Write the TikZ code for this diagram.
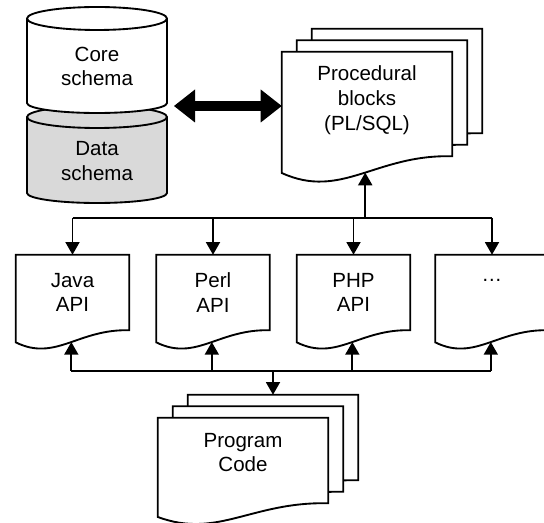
\documentclass[tikz,border=0pt]{standalone}
\usepackage{fontspec}
\setmainfont{Liberation Sans}
\usetikzlibrary{arrows.meta, calc, positioning}

\tikzset{
	sheetnode/.style={
			shape=rectangle,
			inner sep=0pt
		},
	apinode/.style={
			sheetnode,
			minimum width=84.75pt,
			minimum height=56.25pt
		},
	blocknode/.style={
			sheetnode,
			minimum width=127.5pt,
			minimum height=78pt
		},
	codenode/.style={
			sheetnode,
			minimum width=127.5pt,
			minimum height=63.75pt
		},
	labeltext/.style={
			align=center,
			inner sep=0pt,
			font=\fontsize{15.4pt}{18.6pt}\selectfont
		},
	sheetline/.style={
			draw=black,
			line width=1.4pt,
			fill=white
		},
	dbline/.style={
			draw=black,
			line width=1.4pt
		},
	wire/.style={
			draw=black,
			line width=1.4pt
		},
	arrowwire/.style={
			wire,
			-{Triangle[length=9.5pt,width=10.5pt]}
		},
	fatarrow/.style={
			line width=7.5pt,
			{Triangle[length=15.75pt,width=24.75pt,line width=0pt]}-{Triangle[length=15.75pt,width=24.75pt,line width=0pt]}
		}
}

% outline of a page with a wavy lower edge, drawn round a named node
\newcommand{\sheet}[1]{%
  \path[sheetline] let \p1=(#1.north west), \p2=(#1.south east),
      \n1={\x2-\x1}, \n2={\y1-\y2} in
    (\x1,\y2-0.16*\n2) -- (\p1) -- (\x2,\y1) -- (\p2)
    .. controls (\x1+0.55*\n1,\y2+0.02*\n2) and (\x1+0.35*\n1,\y2-0.42*\n2) ..
    (\x1,\y2-0.16*\n2) coordinate[pos=0.47] (#1-w) -- cycle;}

\begin{document}
\begin{tikzpicture}[x=0.75pt, y=-0.75pt]

  \clip (0,0) rectangle (544,523);

  % database
  \filldraw[dbline, fill=black!15] (27,117) -- (27,193)
    arc[start angle=180, end angle=0, x radius=70, y radius=10] -- (167,117)
    arc[start angle=0, end angle=-180, x radius=70, y radius=11] -- cycle;
  \draw[dbline] (27,117) arc[start angle=180, end angle=0, x radius=70, y radius=11];
  \filldraw[dbline, fill=white] (27,18.5) -- (27,103)
    arc[start angle=180, end angle=0, x radius=70, y radius=10] -- (167,18.5)
    arc[start angle=0, end angle=-180, x radius=70, y radius=11.5] -- cycle;
  \draw[dbline] (27,18.5) arc[start angle=180, end angle=0, x radius=70, y radius=11.5];

  \node[labeltext] (core) at (97,66.5) {Core\\schema};
  \node[labeltext] (data) at (97,161) {Data\\schema};

  % pages
  \node[blocknode] (proc3) at (397,81) {};
  \node[blocknode] (proc2) at (382,92.5) {};
  \node[blocknode] (proc) at (367,104) {};

  \node[apinode] (java) at (72.5,292.5) {};
  \node[apinode] (perl) at (213,292.5) {};
  \node[apinode] (php) at (353.5,292.5) {};
  \node[apinode] (dots) at (492,292.5) {};

  \node[codenode] (prog3) at (273,437.5) {};
  \node[codenode] (prog2) at (258,449) {};
  \node[codenode] (prog) at (243,460.5) {};

  \sheet{proc3}
  \sheet{proc2}
  \sheet{proc}
  \sheet{java}
  \sheet{perl}
  \sheet{php}
  \sheet{dots}
  \sheet{prog3}
  \sheet{prog2}
  \sheet{prog}

  \node[labeltext] at ($(proc)+(0,-4)$) {Procedural\\blocks\\(PL/SQL)};
  \node[labeltext] at (java) {Java\\API};
  \node[labeltext] at (perl) {Perl\\API};
  \node[labeltext] at (php) {PHP\\API};
  \node[labeltext] at (dots) {…\\\phantom{API}};
  \node[labeltext] at ($(prog)+(0,-8)$) {Program\\Code};

  % connectors
  \coordinate (dbside) at (174,106);
  \coordinate (topbus) at (0,218);
  \coordinate (botbus) at (0,371);

  \draw[fatarrow] (dbside) -- (dbside -| proc.west);

  \draw[wire] (java.north |- topbus) -- (dots.north |- topbus);
  \draw[arrowwire] (proc-w |- topbus) -- (proc-w);
  \foreach \api in {java, perl, php, dots} {
    \draw[arrowwire] (\api.north |- topbus) -- (\api.north);
    \draw[arrowwire] (\api-w |- botbus) -- (\api-w);
  }
  \draw[wire] (java-w |- botbus) -- (dots-w |- botbus);
  \draw[arrowwire] (prog3.north |- botbus) -- (prog3.north);

\end{tikzpicture}
\end{document}
